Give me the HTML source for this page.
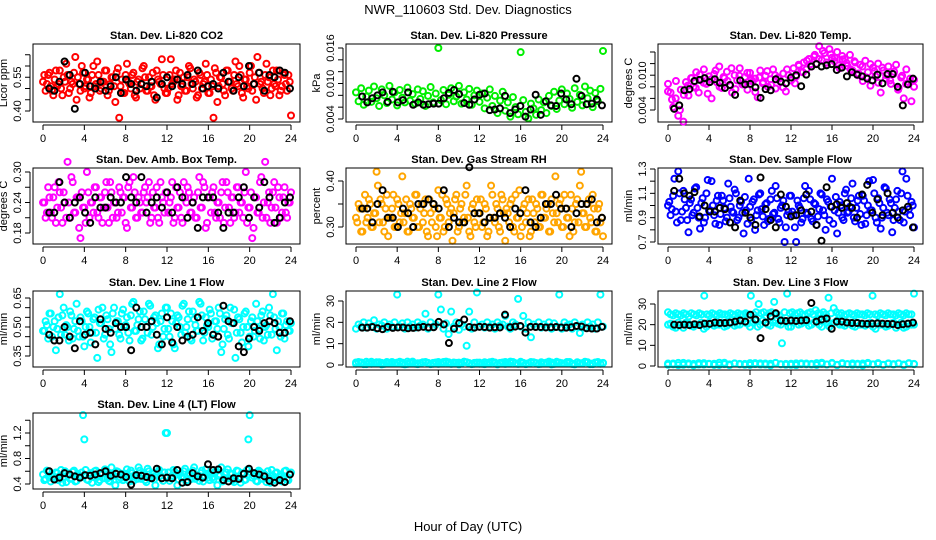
<!DOCTYPE html>
<html><head><meta charset="utf-8"><style>
body{margin:0;background:#fff;}
svg{display:block;font-family:"Liberation Sans",sans-serif;}
</style></head><body>
<svg id="chart" width="936" height="540" viewBox="0 0 936 540">
<text x="468" y="14" text-anchor="middle" font-size="13">NWR_110603  Std. Dev. Diagnostics</text>
<text x="468" y="531" text-anchor="middle" font-size="13">Hour of Day (UTC)</text>
</svg>
<script>
const xTicks = [0,4,8,12,16,20,24];
const c1 = [0.53,0.49,0.56,0.51,0.47,0.58,0.52,0.50,0.55,0.61,0.48,0.53,0.57,0.45,0.52,0.60,0.50,0.54,0.46,0.56,0.51,0.62,0.49,0.53,0.58,0.47,0.52,0.55,0.44,0.59,0.51,0.48,0.56,0.53,0.50,0.57,0.46,0.54,0.52,0.60,0.49,0.55,0.51,0.47,0.58,0.53,0.63,0.50,0.48,0.56,0.52,0.54,0.45,0.57,0.51,0.49,0.55,0.59,0.50,0.53,0.47,0.56,0.52,0.61,0.48,0.54,0.37,0.57,0.51,0.55,0.49,0.58,0.53,0.50,0.56,0.52,0.60,0.48,0.54,0.51,0.57,0.49,0.55,0.64,0.52,0.50,0.56,0.53,0.47,0.58,0.51,0.54,0.49,0.57,0.52,0.56,0.38];
const b1 = [0.50,0.49,0.53,0.62,0.56,0.41,0.52,0.57,0.51,0.50,0.53,0.49,0.51,0.55,0.48,0.54,0.52,0.49,0.52,0.51,0.53,0.46,0.52,0.55,0.51,0.54,0.52,0.56,0.52,0.58,0.50,0.51,0.52,0.50,0.57,0.53,0.49,0.55,0.51,0.60,0.52,0.57,0.49,0.56,0.55,0.58,0.57,0.50];
const c2 = [0.0085,0.0070,0.0092,0.0064,0.0078,0.0088,0.0069,0.0095,0.0075,0.0062,0.0090,0.0080,0.0067,0.0096,0.0073,0.0085,0.0063,0.0089,0.0076,0.0068,0.0093,0.0071,0.0082,0.0066,0.0090,0.0074,0.0087,0.0062,0.0079,0.0094,0.0068,0.0083,0.0160,0.0072,0.0089,0.0065,0.0081,0.0092,0.0070,0.0078,0.0096,0.0066,0.0085,0.0073,0.0091,0.0064,0.0080,0.0088,0.0069,0.0083,0.0058,0.0076,0.0090,0.0062,0.0079,0.0050,0.0071,0.0086,0.0054,0.0068,0.0044,0.0077,0.0060,0.0048,0.0153,0.0072,0.0052,0.0041,0.0066,0.0058,0.0047,0.0073,0.0055,0.0068,0.0050,0.0079,0.0062,0.0086,0.0057,0.0071,0.0090,0.0065,0.0083,0.0074,0.0059,0.0092,0.0069,0.0081,0.0063,0.0095,0.0075,0.0088,0.0060,0.0084,0.0070,0.0091,0.0155];
const b2 = [0.0078,0.0068,0.0075,0.0080,0.0085,0.0069,0.0086,0.0068,0.0072,0.0085,0.0064,0.0068,0.0064,0.0065,0.0066,0.0066,0.0075,0.0084,0.0089,0.0082,0.0067,0.0064,0.0073,0.0081,0.0083,0.0055,0.0056,0.0058,0.0079,0.0050,0.0056,0.0062,0.0044,0.0056,0.0081,0.0047,0.0070,0.0063,0.0062,0.0083,0.0073,0.0065,0.0108,0.0079,0.0065,0.0066,0.0073,0.0063];
const c3 = [0.0085,0.0070,0.0045,0.0060,0.0030,0.0075,0.0020,0.0088,0.0065,0.0095,0.0080,0.0105,0.0070,0.0092,0.0110,0.0085,0.0098,0.0060,0.0102,0.0088,0.0115,0.0078,0.0095,0.0106,0.0083,0.0070,0.0100,0.0091,0.0112,0.0084,0.0097,0.0075,0.0104,0.0089,0.0094,0.0062,0.0108,0.0086,0.0099,0.0080,0.0093,0.0110,0.0077,0.0096,0.0088,0.0103,0.0072,0.0100,0.0091,0.0112,0.0098,0.0118,0.0106,0.0122,0.0110,0.0128,0.0115,0.0132,0.0120,0.0150,0.0126,0.0138,0.0118,0.0145,0.0130,0.0124,0.0140,0.0112,0.0133,0.0128,0.0116,0.0135,0.0108,0.0122,0.0100,0.0118,0.0090,0.0125,0.0105,0.0082,0.0113,0.0098,0.0120,0.0070,0.0108,0.0094,0.0115,0.0085,0.0102,0.0118,0.0078,0.0096,0.0060,0.0110,0.0088,0.0055,0.0092];
const c3b = [0.0072,0.0058,0.0090,0.0040,0.0066,0.0082,0.0095,0.0078,0.0101,0.0087,0.0068,0.0093,0.0108,0.0080,0.0097,0.0090,0.0112,0.0076,0.0099,0.0085,0.0104,0.0092,0.0071,0.0096,0.0088,0.0107,0.0083,0.0100,0.0094,0.0079,0.0110,0.0091,0.0086,0.0116,0.0105,0.0125,0.0119,0.0135,0.0128,0.0142,0.0122,0.0136,0.0130,0.0117,0.0127,0.0121,0.0110,0.0124,0.0103,0.0115,0.0096,0.0119,0.0107,0.0087,0.0113,0.0100,0.0091,0.0106,0.0075,0.0099,0.0085,0.0094,0.0080];
const b3 = [0.0042,0.0048,0.0074,0.0076,0.0090,0.0092,0.0095,0.0088,0.0093,0.0087,0.0078,0.0083,0.0066,0.0091,0.0084,0.0085,0.0079,0.0061,0.0076,0.0074,0.0093,0.0089,0.0086,0.0096,0.0100,0.0081,0.0101,0.0115,0.0119,0.0115,0.0117,0.0119,0.0109,0.0113,0.0098,0.0105,0.0101,0.0098,0.0094,0.0091,0.0101,0.0086,0.0102,0.0102,0.0080,0.0048,0.0084,0.0094];
const c4 = [0.24,0.21,0.27,0.22,0.25,0.20,0.28,0.23,0.26,0.21,0.24,0.29,0.22,0.25,0.19,0.26,0.23,0.30,0.21,0.24,0.27,0.22,0.25,0.20,0.26,0.23,0.28,0.21,0.24,0.22,0.26,0.25,0.20,0.27,0.23,0.29,0.21,0.25,0.22,0.26,0.24,0.28,0.21,0.23,0.27,0.20,0.25,0.22,0.26,0.24,0.28,0.21,0.23,0.26,0.20,0.25,0.27,0.22,0.24,0.21,0.26,0.23,0.28,0.19,0.25,0.22,0.27,0.21,0.24,0.26,0.20,0.28,0.23,0.25,0.21,0.27,0.22,0.24,0.26,0.20,0.23,0.17,0.25,0.22,0.28,0.21,0.32,0.24,0.20,0.26,0.23,0.27,0.21,0.25,0.22,0.24,0.26];
const b4 = [0.22,0.22,0.28,0.24,0.21,0.24,0.25,0.22,0.20,0.25,0.23,0.23,0.25,0.24,0.24,0.29,0.25,0.24,0.29,0.22,0.24,0.25,0.23,0.26,0.22,0.27,0.25,0.21,0.24,0.19,0.25,0.25,0.25,0.22,0.19,0.22,0.22,0.25,0.27,0.21,0.25,0.23,0.28,0.25,0.20,0.21,0.24,0.25];
const c5 = [0.32,0.35,0.29,0.34,0.31,0.36,0.30,0.33,0.42,0.31,0.35,0.29,0.37,0.32,0.34,0.30,0.36,0.31,0.41,0.33,0.29,0.35,0.32,0.37,0.30,0.34,0.31,0.36,0.28,0.33,0.35,0.30,0.38,0.32,0.29,0.36,0.31,0.34,0.33,0.37,0.30,0.35,0.32,0.39,0.29,0.34,0.31,0.36,0.33,0.30,0.35,0.28,0.32,0.37,0.31,0.34,0.29,0.36,0.27,0.33,0.35,0.30,0.37,0.32,0.28,0.34,0.31,0.36,0.29,0.33,0.35,0.30,0.37,0.32,0.34,0.29,0.36,0.31,0.33,0.35,0.30,0.37,0.32,0.28,0.34,0.31,0.36,0.39,0.33,0.30,0.35,0.32,0.37,0.29,0.34,0.31,0.28];
const b5 = [0.34,0.34,0.31,0.35,0.38,0.32,0.32,0.30,0.34,0.33,0.30,0.35,0.35,0.36,0.35,0.34,0.38,0.30,0.32,0.31,0.31,0.43,0.33,0.33,0.31,0.32,0.32,0.33,0.32,0.30,0.34,0.33,0.38,0.31,0.30,0.32,0.35,0.35,0.37,0.34,0.34,0.30,0.33,0.35,0.35,0.36,0.31,0.32];
const c6 = [1.00,0.92,1.08,0.95,1.28,0.88,1.12,0.98,0.78,1.05,0.94,1.15,0.90,1.02,0.86,1.10,0.96,1.20,0.92,1.04,0.84,1.08,0.98,0.90,1.06,0.95,1.13,0.88,1.00,0.94,1.07,0.85,0.99,1.03,0.80,0.96,1.10,0.91,1.01,0.87,1.05,0.93,1.16,0.89,0.98,1.04,0.82,0.95,1.08,0.92,0.70,1.00,0.86,1.06,0.94,1.12,0.89,1.02,0.84,0.97,1.09,0.92,1.05,0.88,1.22,0.96,0.77,1.03,0.90,1.10,0.94,0.99,1.18,0.87,1.04,0.93,1.08,0.85,1.00,0.96,1.21,0.90,1.06,0.81,0.98,1.14,0.92,1.02,0.88,1.05,0.95,1.10,0.86,1.22,0.97,1.03,0.82];
const b6 = [1.12,1.22,1.10,1.08,1.11,0.91,1.00,0.95,0.95,0.98,0.97,0.86,0.82,1.04,0.94,0.90,0.84,1.23,0.97,0.88,0.82,1.09,0.99,0.91,0.92,0.96,1.09,0.95,0.84,0.71,1.15,0.99,1.01,0.98,1.02,0.98,0.90,1.09,1.17,0.94,1.05,0.92,1.10,0.94,0.90,0.96,0.99,0.82];
const c7 = [0.48,0.53,0.44,0.57,0.50,0.38,0.55,0.46,0.60,0.51,0.43,0.56,0.49,0.62,0.45,0.53,0.40,0.58,0.50,0.47,0.55,0.34,0.52,0.60,0.46,0.54,0.41,0.57,0.49,0.53,0.44,0.59,0.51,0.47,0.56,0.63,0.48,0.54,0.43,0.58,0.50,0.62,0.46,0.55,0.52,0.41,0.57,0.49,0.60,0.45,0.53,0.39,0.56,0.50,0.61,0.47,0.54,0.44,0.58,0.51,0.48,0.62,0.43,0.55,0.50,0.57,0.46,0.53,0.60,0.37,0.49,0.56,0.44,0.52,0.59,0.47,0.54,0.42,0.57,0.50,0.45,0.55,0.48,0.53,0.44,0.58,0.50,0.46,0.56,0.67,0.49,0.53,0.45,0.57,0.51,0.48,0.52];
const b7 = [0.46,0.43,0.43,0.50,0.45,0.39,0.53,0.46,0.47,0.41,0.54,0.49,0.47,0.52,0.50,0.50,0.38,0.60,0.50,0.50,0.53,0.46,0.41,0.55,0.42,0.50,0.43,0.45,0.46,0.55,0.48,0.52,0.46,0.45,0.61,0.53,0.52,0.40,0.37,0.44,0.50,0.48,0.52,0.53,0.52,0.47,0.47,0.53];
const c8 = [17,19,18,20,17.5,19.5,18,21,17,19,18.5,20,17,19,18,20,33,18,19.5,17,20,18,19,17.5,20,18.5,19,24,17,20,18,19,33,26,17,19.5,14.5,25,18,20,16.5,19,18,9,25,17,20,34,18,19,17.5,20,18,19,17,20,18.5,19,23,18,17,20,19,31,18,23,17,20,13,19,18,20,17.5,19,18,20,17,19.5,18,33,17,20,18.5,19,17,20,18,15,19,17.5,20,18,19,17,20,33,18];
const c8low = [0.6,1.2,0.4,1.5,0.8,0.3,1.4,0.7,1.1,0.5,1.6,0.9,0.4,1.3,0.8,1.0,0.5,1.4,0.7,1.2,0.3,1.5,0.9,0.6,1.1,0.4,1.3,0.8,1.0,0.5,1.6,0.7,1.2,0.4,1.4,0.9,0.6,1.1,0.3,1.5,0.8,1.0,0.5,1.3,0.7,1.2,0.4,1.4,0.9];
const b8 = [17.5,17.5,17.8,17.2,16.8,17.9,17.4,17.6,17.6,17.2,17.4,17.6,17.9,17.6,17.7,20.2,19,10.3,17,19.6,21.3,17.8,17.5,17.9,17.8,17.5,17.7,17.6,23.6,17.7,18,18.3,15.2,17.9,17.8,17.8,17.6,17.7,17.8,17.6,17.5,17.7,18.3,18,17.2,17.1,17.1,17.9];
const c9 = [26,25,24.5,25.5,25,24.5,25.5,25,24,25.5,25,24.5,25.5,25,34,25,24.5,25.5,25,24.5,25.5,25,25,24.5,25.5,25,24.5,25.5,25,25,25.5,25,34,25,26,30,25.5,26,24,25.5,26,31,25,24.5,11,26,35,25.5,26,25,25.5,26,25,24.5,25.5,26,25,27,25.5,25,26,25,33,25.5,28,26,25,25.5,24.5,25,25.5,25,24.5,25.5,25,25,24.5,25.5,25,34,25,24.5,25.5,25,24.5,25.5,25,25,24.5,25.5,25,24.5,25.5,25,25,35];
const c9mid = [20,19,21,18.5,20.5,19,20,18,21,19.5,20,19,21,19.5,20,21,19,22,20,21,19.5,22,20,21,19,22,20.5,21,20,22,19,21,20.5,22,20,21,19.5,21,20,20.5,19,21,20,19.5,21,20,18.5,20.5,20];
const c9low = [1.2,0.8,1.5,0.6,1.3,1.0,0.7,1.4,0.9,1.1,0.5,1.6,0.8,1.2,1.0,0.6,1.4,0.9,1.3,0.7,1.1,1.5,0.8,1.0,0.6,1.3,0.9,1.2,0.7,1.4,1.0,0.8,1.5,0.6,1.1,0.9,1.3,0.7,1.2,1.0,0.8,1.4,0.6,1.1,0.9,1.3,0.7,1.2,1.0];
const b9 = [20,19.8,20,19.8,20.2,19.8,20.5,20.4,21,20.8,20.8,21,21.5,22,21.5,24.8,22.5,13.5,21,24,25.5,22,21.8,22,21.8,22,22.2,30.5,21.5,22.5,23,18,21.5,21.5,21,20.8,20.8,20.5,20.4,20.5,20.6,20.5,20.4,20.3,19.8,20.2,20.5,21];
const c10 = [0.55,0.48,0.60,0.44,0.52,0.58,0.46,0.62,0.50,0.43,0.56,0.49,0.61,0.45,0.53,0.58,1.10,0.47,0.55,0.42,0.60,0.51,0.46,0.57,0.63,0.49,0.44,0.55,0.38,0.59,0.50,0.46,0.56,0.52,0.61,0.45,0.54,0.66,0.48,0.57,0.43,0.60,0.51,0.47,0.55,0.62,0.49,0.58,1.20,0.45,0.53,0.59,0.38,0.56,0.50,0.64,0.46,0.55,0.61,0.48,0.52,0.57,0.44,0.63,0.50,0.56,0.47,0.60,0.53,0.66,0.45,0.58,0.49,0.55,0.43,0.61,0.51,0.57,0.46,0.62,1.48,0.50,0.56,0.44,0.59,0.48,0.54,0.60,0.42,0.53,0.57,0.47,0.55,0.50,0.61,0.46,0.58];
const b10 = [0.60,0.47,0.50,0.57,0.55,0.52,0.50,0.54,0.53,0.55,0.57,0.60,0.53,0.56,0.55,0.51,0.39,0.54,0.53,0.51,0.49,0.64,0.49,0.50,0.49,0.62,0.42,0.43,0.57,0.52,0.50,0.71,0.62,0.63,0.46,0.44,0.49,0.48,0.56,0.64,0.57,0.55,0.52,0.45,0.42,0.46,0.43,0.55];

const svg = document.getElementById('chart');
const NS = 'http://www.w3.org/2000/svg';
function mk(tag, attrs, parent){const e=document.createElementNS(NS,tag);for(const k in attrs)e.setAttribute(k,attrs[k]);(parent||svg).appendChild(e);return e;}
const cols=[[33,300],[346,612],[658,923]];
const rows=[[44,122],[168,244],[291,367],[413,489]];
const panels=[
 {t:'Stan. Dev. Li-820 CO2',yl:'Licor ppm',c:0,r:0,v1:0.40,p1:111,v2:0.60,p2:66,ticks:[0.40,0.45,0.50,0.55,0.60,0.65],labels:['0.40','0.55'],col:'#ff0000',series:[c1],mirror:[c1],black:b1},
 {t:'Stan. Dev. Li-820 Pressure',yl:'kPa',c:1,r:0,v1:0.004,p1:119,v2:0.016,p2:48,ticks:[0.004,0.006,0.008,0.010,0.012,0.014,0.016],labels:['0.004','0.010','0.016'],col:'#00ee00',series:[c2],mirror:[],black:b2},
 {t:'Stan. Dev. Li-820 Temp.',yl:'degrees C',c:2,r:0,v1:0.004,p1:110,v2:0.014,p2:52,ticks:[0.004,0.006,0.008,0.010,0.012,0.014],labels:['0.004','0.010'],col:'#ff00ff',series:[c3,c3b],mirror:[],black:b3},
 {t:'Stan. Dev. Amb. Box Temp.',yl:'degrees C',c:0,r:1,v1:0.18,p1:233,v2:0.30,p2:172,ticks:[0.18,0.21,0.24,0.27,0.30,0.33],labels:['0.18','0.24','0.30'],col:'#ff00ff',series:[c4],mirror:[c4],black:b4},
 {t:'Stan. Dev. Gas Stream RH',yl:'percent',c:1,r:1,v1:0.30,p1:227,v2:0.40,p2:181,ticks:[0.30,0.35,0.40],labels:['0.30','0.40'],col:'#ffa500',series:[c5],mirror:[c5],black:b5},
 {t:'Stan. Dev. Sample Flow',yl:'ml/min',c:2,r:1,v1:0.7,p1:242,v2:1.3,p2:169,ticks:[0.7,0.8,0.9,1.0,1.1,1.2,1.3],labels:['0.7','0.9','1.1','1.3'],col:'#0000ff',series:[c6],mirror:[c6],black:b6},
 {t:'Stan. Dev. Line 1 Flow',yl:'ml/min',c:0,r:2,v1:0.35,p1:356,v2:0.65,p2:298,ticks:[0.35,0.40,0.45,0.50,0.55,0.60,0.65],labels:['0.35','0.50','0.65'],col:'#00ffff',series:[c7],mirror:[c7],black:b7},
 {t:'Stan. Dev. Line 2 Flow',yl:'ml/min',c:1,r:2,v1:0,p1:365,v2:30,p2:301,ticks:[0,10,20,30],labels:['0','10','20','30'],col:'#00ffff',series:[c8,c8low,c9low],mirror:[c8low],black:b8},
 {t:'Stan. Dev. Line 3 Flow',yl:'ml/min',c:2,r:2,v1:0,p1:366,v2:30,p2:304,ticks:[0,10,20,30],labels:['0','10','20','30'],col:'#00ffff',series:[c9,c9mid,c9low,c8low],mirror:[c9mid],black:b9},
 {t:'Stan. Dev. Line 4 (LT) Flow',yl:'ml/min',c:0,r:3,v1:0.4,p1:484,v2:1.2,p2:433,ticks:[0.4,0.6,0.8,1.0,1.2,1.4],labels:['0.4','0.8','1.2'],col:'#00ffff',series:[c10],mirror:[c10],black:b10}
];
panels.forEach((P,pi)=>{
 const [L,R]=cols[P.c],[T,B]=rows[P.r];
 const g=mk('g',{});
 
 
 const x0=L+10,x1=R-9;
 const xs=h=>x0+(x1-x0)*h/24;
 const ys=v=>P.p1+(v-P.v1)*(P.p2-P.p1)/(P.v2-P.v1);
 const tt=mk('text',{x:(L+R)/2,y:T-5,'text-anchor':'middle','font-size':11,'font-weight':'bold'},g);
 tt.textContent=P.t;
 
 
 const xa=mk('g',{stroke:'#000','stroke-width':1},g);
 
 
 mk('line',{x1:xs(0),x2:xs(24),y1:B+3,y2:B+3},xa);
 xTicks.forEach(h=>{
  mk('line',{x1:xs(h),x2:xs(h),y1:B+3,y2:B+8},xa);
  const t=mk('text',{x:xs(h),y:B+20,'text-anchor':'middle','font-size':11,stroke:'none'},xa);
  t.textContent=h;
  
  
 });
 const ya=mk('g',{stroke:'#000','stroke-width':1},g);
 
 
 const tys=P.ticks.map(ys).filter(y=>y>=T-1&&y<=B+1);
 mk('line',{x1:L-3,x2:L-3,y1:Math.min(...tys),y2:Math.max(...tys)},ya);
 P.ticks.forEach(v=>{const y=ys(v);if(y<T-1||y>B+1)return;mk('line',{x1:L-8,x2:L-3,y1:y,y2:y},ya);});
 P.labels.forEach(s=>{
  const y=ys(parseFloat(s));
  const t=mk('text',{x:L-12,y:y,'text-anchor':'middle','font-size':11,stroke:'none',transform:`rotate(-90 ${L-12} ${y})`},ya);
  t.textContent=s;
  
  
 });
 const yt=mk('text',{x:L-26,y:(T+B)/2,'text-anchor':'middle','font-size':11,transform:`rotate(-90 ${L-26} ${(T+B)/2})`},g);
 yt.textContent=P.yl;
 
 
 const pg=mk('g',{fill:'none',stroke:P.col,'stroke-width':2},g);
 
 
 P.series.forEach(arr=>{
  arr.forEach((v,i)=>{
   const c=mk('circle',{cx:xs(i*24/(arr.length-1)),cy:ys(v),r:3},pg);
   
   
  });
 });
 P.mirror.forEach(arr=>{
  const n=arr.length;
  arr.forEach((v,i)=>{
   const h=24-(i+0.5)*24/(n-1);
   if(h<0)return;
   const c=mk('circle',{cx:xs(h),cy:ys(v),r:3},pg);
   
   
  });
 });
 const bg=mk('g',{fill:'none',stroke:'#000','stroke-width':2},g);
 
 
 P.black.forEach((v,i)=>{
  const c=mk('circle',{cx:xs(0.6+i*23.3/(P.black.length-1)),cy:ys(v),r:3},bg);
  
  
 });
 const box=mk('rect',{x:L,y:T,width:R-L,height:B-T,fill:'none',stroke:'#000','stroke-width':1},g);
 
 
});
</script>
</body></html>
